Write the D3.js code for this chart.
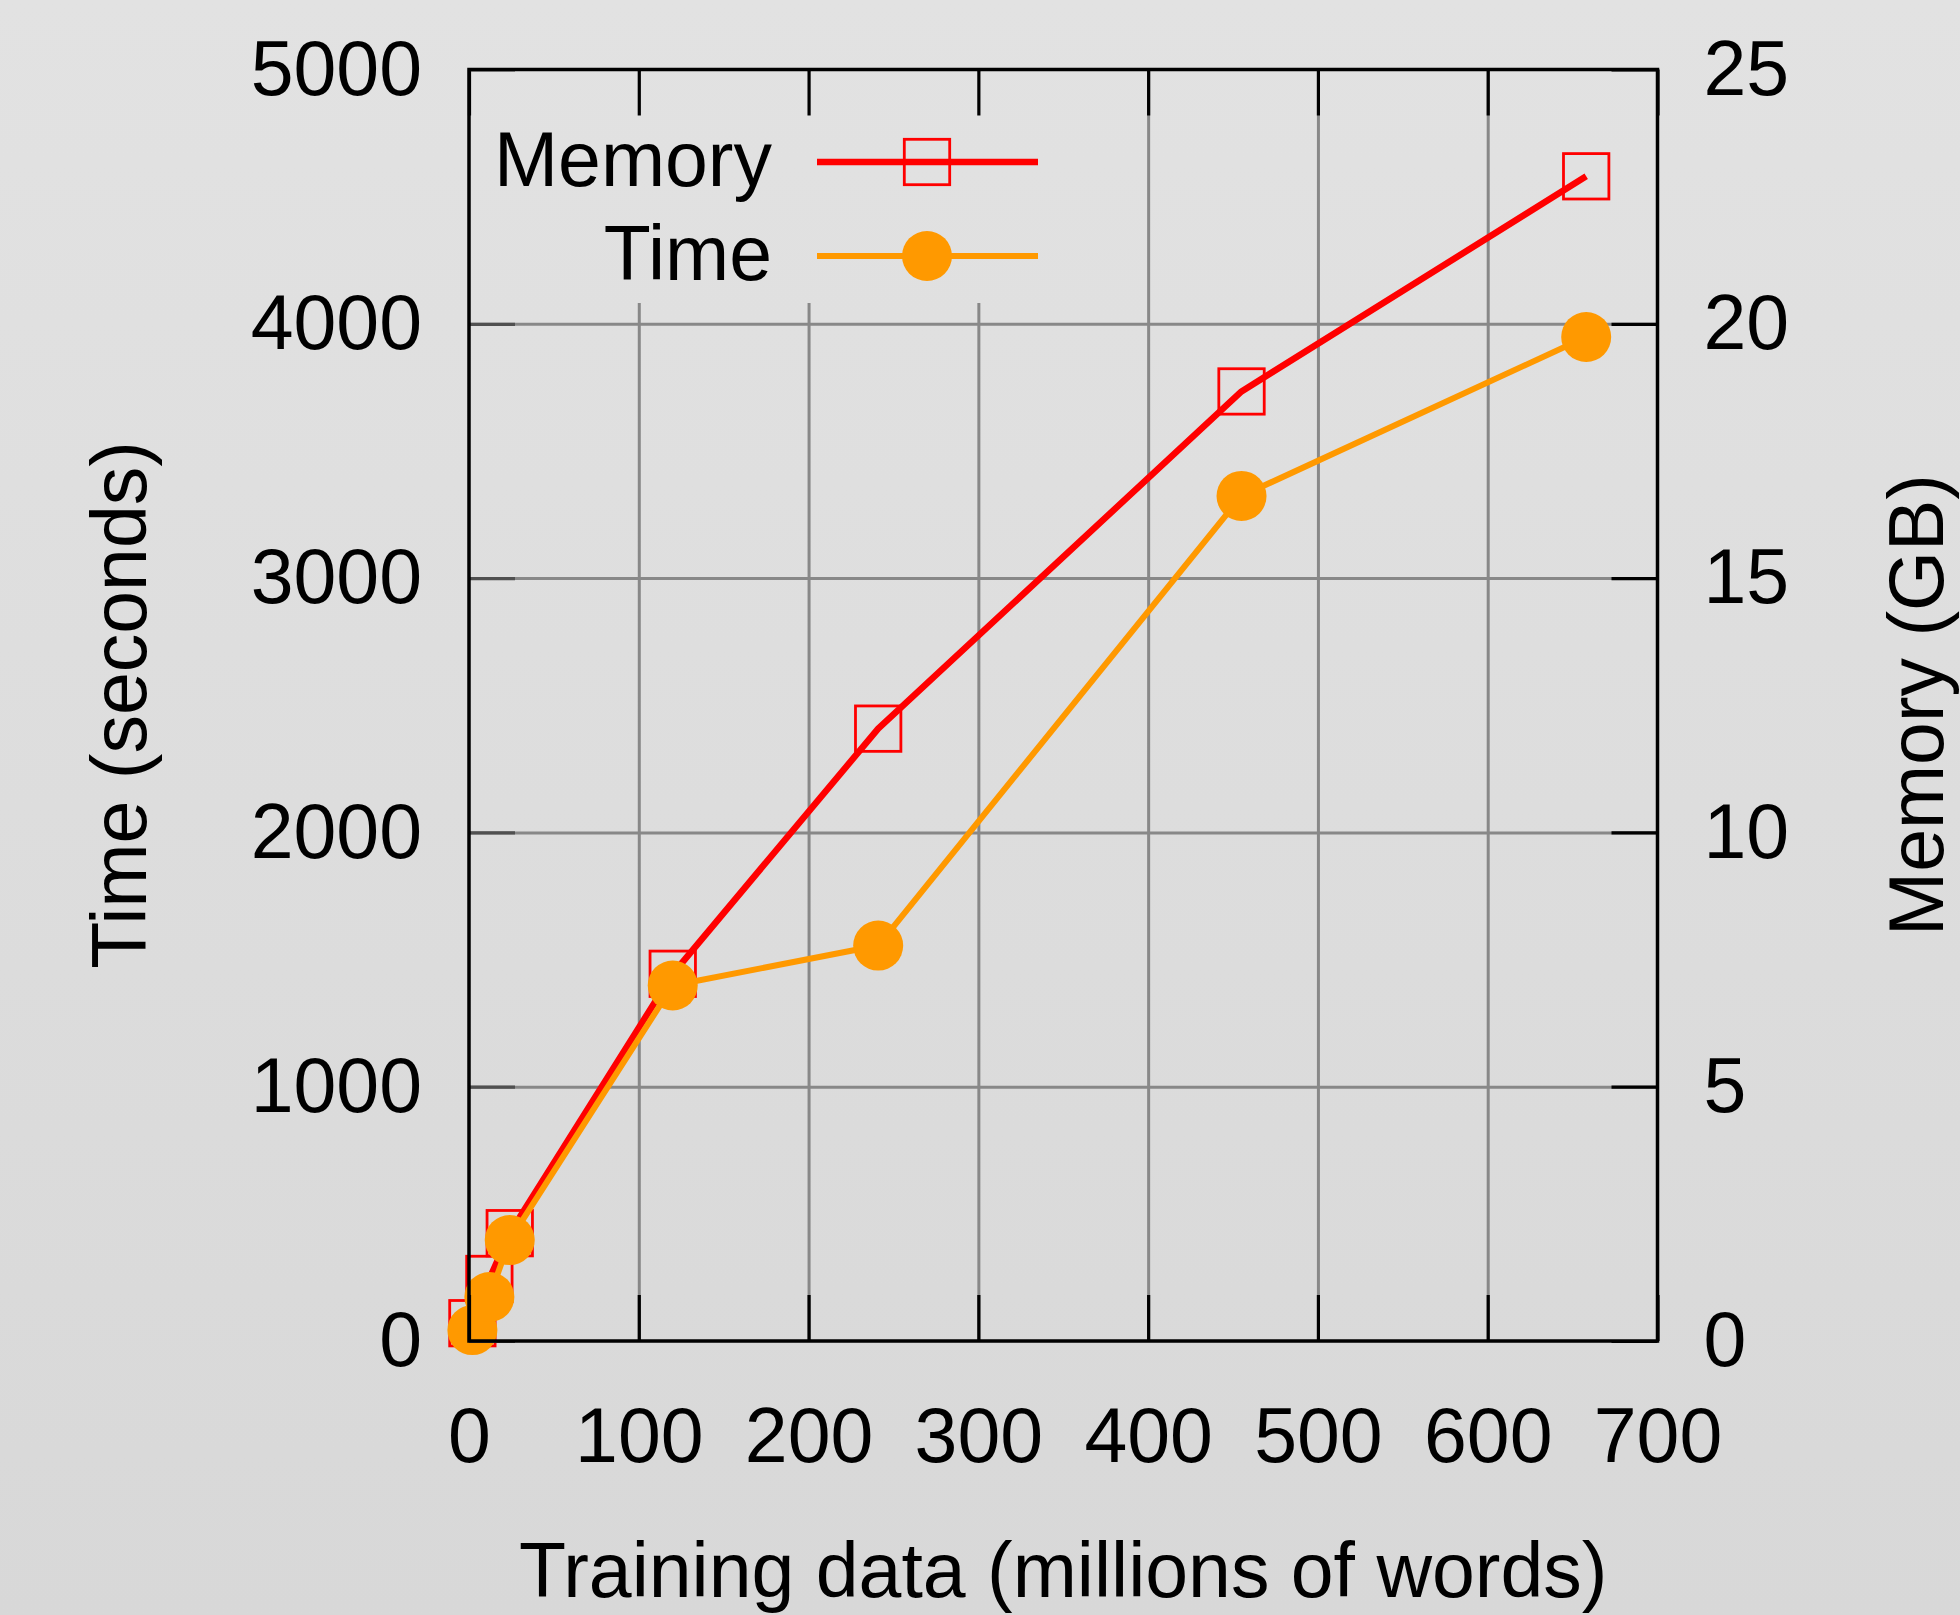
<html>
<head>
	<script src="https://d3js.org/d3.v7.min.js"></script>
	<style>
	body { margin: 0; }
	svg text { font-family: "Liberation Sans", Arial, Helvetica, sans-serif; font-size: 77px; fill: #000; }
	.grid line { stroke: #888; stroke-width: 3; }
	.grid path { display: none; }
	.ax path { display: none; }
	.ax line { stroke: #000; stroke-width: 3.2; }
	.ax.left line { stroke: #505050; }
	</style>
</head>
<body>
<svg id="chart"></svg>
<script>
// data
var words = [2, 12, 24, 120, 241, 455, 658];          // millions of words
var memory = [0.35, 1.22, 2.12, 7.22, 12.04, 18.67, 22.9]; // GB
var time = [43, 173, 397, 1398, 1555, 3323, 3948];     // seconds

var xTicks = [0, 100, 200, 300, 400, 500, 600, 700];
var timeTicks = [0, 1000, 2000, 3000, 4000, 5000];
var memTicks = [0, 5, 10, 15, 20, 25];
var legendNames = ['Memory', 'Time'];

var W = 1960, H = 1615;
var p = { left: 469, right: 1657.5, top: 69.5, bottom: 1341, tick: 46 };

var svg = d3.select('#chart').attr('width', W).attr('height', H);

var grad = svg.append('defs').append('linearGradient')
	.attr('id', 'bg').attr('gradientUnits', 'userSpaceOnUse')
	.attr('x1', 0).attr('y1', 0).attr('x2', 0).attr('y2', H);
grad.append('stop').attr('offset', 0).attr('stop-color', '#e2e2e2');
grad.append('stop').attr('offset', 1).attr('stop-color', '#d8d8d8');
svg.append('rect').attr('width', W).attr('height', H).attr('fill', 'url(#bg)');

var x = d3.scaleLinear().domain([0, 700]).range([p.left, p.right]);
var yT = d3.scaleLinear().domain([0, 5000]).range([p.bottom, p.top]);
var yM = d3.scaleLinear().domain([0, 25]).range([p.bottom, p.top]);

// grid
svg.append('g').attr('class', 'grid')
	.attr('transform', 'translate(0,' + p.bottom + ')')
	.call(d3.axisBottom(x).tickValues(xTicks.slice(1, -1)).tickSize(-(p.bottom - p.top)).tickFormat(''));
svg.append('g').attr('class', 'grid')
	.attr('transform', 'translate(' + p.left + ',0)')
	.call(d3.axisLeft(yT).tickValues(timeTicks.slice(1, -1)).tickSize(-(p.right - p.left)).tickFormat(''));

// key box hides the grid behind it
svg.append('rect')
	.attr('x', p.left + 2).attr('y', p.top + 2)
	.attr('width', 590).attr('height', 303 - p.top - 2)
	.attr('fill', 'url(#bg)');

// series
var line = d3.line();
var memPts = words.map(function(d, i) { return [x(d), yM(memory[i])]; });
var timePts = words.map(function(d, i) { return [x(d), yT(time[i])]; });

svg.append('path').attr('d', line(memPts))
	.attr('fill', 'none').attr('stroke', '#ff0000').attr('stroke-width', 6.5).attr('stroke-linejoin', 'round');
svg.selectAll('.sq').data(memPts).enter().append('rect')
	.attr('x', function(d) { return d[0] - 22.7; })
	.attr('y', function(d) { return d[1] - 22.7; })
	.attr('width', 45.4).attr('height', 45.4)
	.attr('fill', 'none').attr('stroke', '#ff0000').attr('stroke-width', 2.8);

svg.append('path').attr('d', line(timePts))
	.attr('fill', 'none').attr('stroke', '#ff9900').attr('stroke-width', 6).attr('stroke-linejoin', 'round');
svg.selectAll('.dot').data(timePts).enter().append('circle')
	.attr('cx', function(d) { return d[0]; })
	.attr('cy', function(d) { return d[1]; })
	.attr('r', 25).attr('fill', '#ff9900');

// border and ticks
svg.append('g').attr('class', 'ax')
	.attr('transform', 'translate(0,' + p.bottom + ')')
	.call(d3.axisBottom(x).tickValues(xTicks).tickSize(-p.tick).tickPadding(66));
svg.append('g').attr('class', 'ax')
	.attr('transform', 'translate(0,' + p.top + ')')
	.call(d3.axisTop(x).tickValues(xTicks).tickSize(-p.tick).tickFormat(''));
svg.append('g').attr('class', 'ax left')
	.attr('transform', 'translate(' + p.left + ',0)')
	.call(d3.axisLeft(yT).tickValues(timeTicks).tickSize(-p.tick).tickPadding(47).tickFormat(d3.format('d')));
svg.append('g').attr('class', 'ax')
	.attr('transform', 'translate(' + p.right + ',0)')
	.call(d3.axisRight(yM).tickValues(memTicks).tickSize(-p.tick).tickPadding(46));
svg.selectAll('.ax text').attr('font-size', null).attr('font-family', null).style('fill', '#000');

svg.append('rect')
	.attr('x', p.left).attr('y', p.top)
	.attr('width', p.right - p.left).attr('height', p.bottom - p.top)
	.attr('fill', 'none').attr('stroke', '#000').attr('stroke-width', 3.5);

// axis titles
svg.append('text').attr('x', (p.left + p.right) / 2).attr('y', 1597)
	.attr('text-anchor', 'middle').text('Training data (millions of words)');
svg.append('text').attr('transform', 'translate(146,705) rotate(-90)')
	.attr('text-anchor', 'middle').text('Time (seconds)');
svg.append('text').attr('transform', 'translate(1943,705) rotate(-90)')
	.attr('text-anchor', 'middle').text('Memory (GB)');

// legend
var key = svg.selectAll('.key').data(legendNames).enter().append('g')
	.attr('transform', function(d, i) { return 'translate(0,' + (162 + i * 94) + ')'; });
key.append('text').attr('x', 772).attr('y', 24).attr('text-anchor', 'end').text(function(d) { return d; });
key.append('line').attr('x1', 817).attr('x2', 1038)
	.attr('stroke', function(d, i) { return i ? '#ff9900' : '#ff0000'; })
	.attr('stroke-width', function(d, i) { return i ? 6 : 6.5; });
key.filter(function(d, i) { return i === 0; }).append('rect')
	.attr('x', 927 - 22.7).attr('y', -22.7).attr('width', 45.4).attr('height', 45.4)
	.attr('fill', 'none').attr('stroke', '#ff0000').attr('stroke-width', 2.8);
key.filter(function(d, i) { return i === 1; }).append('circle')
	.attr('cx', 927).attr('r', 25).attr('fill', '#ff9900');
</script>
</body>
</html>
